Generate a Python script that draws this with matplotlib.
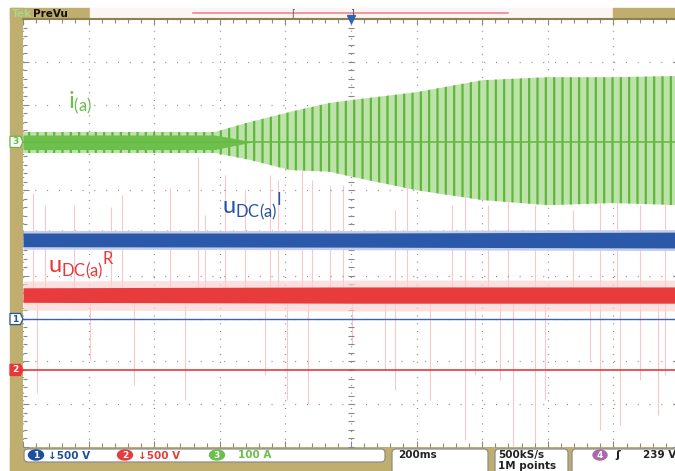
import numpy as np
import matplotlib
matplotlib.use("Agg")
import matplotlib.pyplot as plt
from matplotlib.patches import Rectangle, FancyBboxPatch, Polygon, Ellipse
import matplotlib.transforms as mtransforms

# time axis: 200 ms/div, 10 div ; vertical in divisions (0 = bottom, 10 = top)
t_env = [0, 585, 690, 815, 935, 1005, 1200, 1400, 1600, 1800, 2000]
g_hi  = [7.36, 7.36, 7.59, 7.83, 8.04, 8.11, 8.29, 8.57, 8.64, 8.64, 8.67]
g_lo  = [6.87, 6.87, 6.71, 6.47, 6.43, 6.31, 6.00, 5.77, 5.65, 5.70, 5.65]
# dense core of the small-amplitude part
t_core = [0, 585, 700]
c_hi   = [7.29, 7.29, 7.13]
c_lo   = [6.95, 6.95, 7.13]

t_band = [0, 1000, 2000]
b_hi   = [5.00, 5.00, 5.02]
b_lo   = [4.68, 4.67, 4.65]
r_hi   = [3.72, 3.74, 3.74]
r_lo   = [3.38, 3.36, 3.36]
r_mid  = 3.55

# ground references of the channels
ch3_ref = 7.13
ch1_ref = 2.99
ch2_ref = 1.80

# red spikes (time ms, end level div)
spk_up_t = [30, 67, 155, 268, 302, 448, 534, 555, 616, 677, 753, 777, 851, 881,
            936, 976, 1134, 1171, 1308, 1348, 1418, 1479, 1561, 1677, 1759, 1811, 1881, 1957]
spk_up_y = [5.93, 5.65, 5.65, 5.61, 5.89, 6.05, 6.78, 5.42, 6.36, 6.00, 6.36, 6.24, 6.59, 6.24,
            6.12, 6.12, 5.54, 6.36, 5.65, 6.00, 5.65, 5.77, 5.65, 5.54, 5.89, 6.00, 5.65, 5.89]
spk_dn_t = [43, 204, 338, 494, 738, 805, 869, 1003, 1104, 1134, 1241, 1348, 1378, 1454,
            1494, 1561, 1591, 1729, 1759, 1820, 1881, 1936, 1957]
spk_dn_y = [1.26, 2.03, 1.45, 1.10, 1.68, 1.10, 1.00, 2.38, 1.80, 1.33, 1.10, 0.16, 1.68, 1.57,
            0.0, 0.05, 1.10, 2.03, 0.40, 0.51, 1.57, 0.75, 1.68]

GREEN = "#66bb45"
BLUE = "#2553a3"
RED = "#e8373a"
TAN = "#bfae6d"

W, H = 675, 471
fig = plt.figure(figsize=(W / 100, H / 100), dpi=100)
fig.patch.set_facecolor("white")

# background / bezel in pixel coords
bg = fig.add_axes([0, 0, 1, 1], zorder=0)
bg.set_xlim(0, W)
bg.set_ylim(H, 0)
bg.axis("off")
bg.add_patch(Rectangle((10, 8), 13, H - 8, color=TAN))
bg.add_patch(Rectangle((10, 447), W - 10, 24, color=TAN))
bg.add_patch(Rectangle((10, 8), 80, 11, color=TAN))
bg.add_patch(Rectangle((90, 8), 523, 11, color="#fdf4f4"))
bg.add_patch(Rectangle((613, 8), 62, 11, color=TAN))
bg.plot([193, 508], [13, 13], color="#e88c8c", lw=1.2)
bg.text(293, 13, "[", color="#666", fontsize=7, ha="center", va="center")
bg.text(352, 13, "]", color="#555", fontsize=7, ha="center", va="center")
bg.text(12, 14, "Tek", color="#a6d88a", fontsize=7.5, weight="bold", va="center")
bg.text(33, 14, "PreVu", color="#111", fontsize=7.5, weight="bold", va="center")

# status boxes
for x0, x1, y0, y1 in [(24, 385, 449, 462), (392, 488, 449, 476), (495, 568, 449, 476), (572, 690, 449, 476)]:
    bg.add_patch(FancyBboxPatch((x0, y0), x1 - x0, y1 - y0, boxstyle="round,pad=0,rounding_size=4",
                                fc="white", ec="#8d8d8d", lw=0.9))
for cx, num, col, txt, tx in [(36, "1", "#1f4e9c", "\u2193500 V", 48),
                              (125, "2", "#e43d3d", "\u2193500 V", 138),
                              (217, "3", "#6cbf4c", "100 A", 238)]:
    bg.add_patch(Ellipse((cx, 455), 15, 10, color=col))
    bg.text(cx, 455.5, num, color="white", fontsize=6.5, weight="bold", ha="center", va="center")
    bg.text(tx, 455.5, txt, color=col, fontsize=7.5, weight="bold", va="center")
bg.text(398, 455, "200ms", color="#222", fontsize=7.5, weight="bold", va="center")
bg.text(498, 455, "500kS/s", color="#222", fontsize=7.5, weight="bold", va="center")
bg.text(498, 466, "1M points", color="#222", fontsize=7.5, weight="bold", va="center")
bg.add_patch(Ellipse((600, 455), 14, 10, color="#a86aa8"))
bg.text(600, 455.5, "4", color="white", fontsize=6.5, weight="bold", ha="center", va="center")
bg.text(618, 455, "\u0283", color="#222", fontsize=8, weight="bold", ha="center", va="center")
bg.text(643, 455, "239 V", color="#222", fontsize=7.5, weight="bold", va="center")

# screen
ax = fig.add_axes([23 / W, 24 / H, 656 / W, 428 / H], zorder=1)
ax.set_facecolor("white")
ax.set_xlim(0, 2000)
ax.set_ylim(0, 10)
ax.set_xticks(np.arange(0, 2001, 200))
ax.set_yticks(np.arange(0, 11, 1))
ax.set_xticks(np.arange(0, 2001, 40), minor=True)
ax.set_yticks(np.arange(0, 10.01, 0.2), minor=True)
ax.tick_params(which="both", direction="in", top=True, right=True, labelleft=False,
               labelbottom=False, color="#8a8a8a", width=0.8)
ax.tick_params(which="major", length=4)
ax.tick_params(which="minor", length=3)
ax.xaxis.grid(True, which="major", color="#8a8a8a", lw=0.9, linestyle=(0, (0.8, 5.36)))
ax.yaxis.grid(True, which="major", color="#8a8a8a", lw=0.9, linestyle=(0, (0.8, 8.65)))
for s in ["left", "bottom", "right"]:
    ax.spines[s].set_visible(False)
ax.spines["top"].set_color("#8f8050")
ax.spines["top"].set_linewidth(1.5)

# centre cross ticks
ax.plot(np.full(51, 1000), np.arange(0, 10.01, 0.2), ls="none", marker="_", ms=4, color="#888", mew=0.8)
ax.plot(np.arange(0, 2001, 40), np.full(51, 5), ls="none", marker="|", ms=4, color="#888", mew=0.8)
ax.plot([1000], [10], marker="v", ms=6, color="#2e64b8", clip_on=False, zorder=6)

# red spikes
ax.vlines(spk_up_t, r_mid, spk_up_y, color="#f5a3a3", lw=0.8, alpha=0.6, zorder=1.5)
ax.vlines(spk_dn_t, r_mid, spk_dn_y, color="#f5a3a3", lw=0.8, alpha=0.6, zorder=1.5)

# ch3 current
plt.rcParams["hatch.linewidth"] = 1.6
ax.fill_between(t_env, g_lo, g_hi, facecolor="#bde3ab", hatch="||", edgecolor="#5fb73c", lw=0, zorder=2)
ax.fill_between(t_core, c_lo, c_hi, color="#6cbf4a", lw=0, zorder=2.2)
ax.axhline(ch3_ref, color=GREEN, lw=1.2, zorder=2.5)

# ch1 / ch2 voltages
ax.fill_between(t_band, np.array(b_lo) - 0.06, np.array(b_hi) + 0.06, color="#c3cfe9", lw=0, zorder=2.8)
ax.fill_between(t_band, b_lo, b_hi, color="#2b58a8", lw=0, zorder=3)
ax.fill_between(t_band, np.array(r_lo) - 0.18, np.array(r_hi) + 0.16, color="#fbd3d3", lw=0, alpha=0.7, zorder=2.8)
ax.fill_between(t_band, r_lo, r_hi, color="#e83c3c", lw=0, zorder=3)
ax.axhline(ch1_ref, color="#3b64b0", lw=1.0, zorder=3)
ax.axhline(ch2_ref, color="#e53c3c", lw=1.2, zorder=3)

# channel markers on bezel
tr = mtransforms.blended_transform_factory(ax.transAxes, ax.transData)
dx = 13 / 656
dy = 0.13
for lvl, fc, ec, tc, num in [(ch3_ref, "white", GREEN, GREEN, "3"),
                             (ch1_ref, "white", BLUE, BLUE, "1"),
                             (ch2_ref, RED, RED, "white", "2")]:
    ax.add_patch(Polygon([(-dx, lvl - dy), (-0.004, lvl - dy), (0, lvl), (-0.004, lvl + dy), (-dx, lvl + dy)],
                         closed=True, fc=fc, ec=ec, lw=0.9, transform=tr, clip_on=False, zorder=6))
    ax.text(-dx / 2 - 0.002, lvl, num, color=tc, fontsize=6.5, weight="bold", ha="center", va="center",
            transform=tr, clip_on=False, zorder=7)

# labels
ax.text(137, 7.92, r"$\mathregular{i_{(a)}}$", color="#6abf4b", fontsize=17, family="Lato", va="baseline")
ax.text(607, 5.44, r"$\mathregular{{u_{DC(a)}}^{I}}$", color=BLUE, fontsize=17, family="Lato", va="baseline", zorder=8)
ax.text(76, 4.07, r"$\mathregular{{u_{DC(a)}}^{R}}$", color=RED, fontsize=17, family="Lato", va="baseline", zorder=8)

fig.savefig("out.png", dpi=100)
